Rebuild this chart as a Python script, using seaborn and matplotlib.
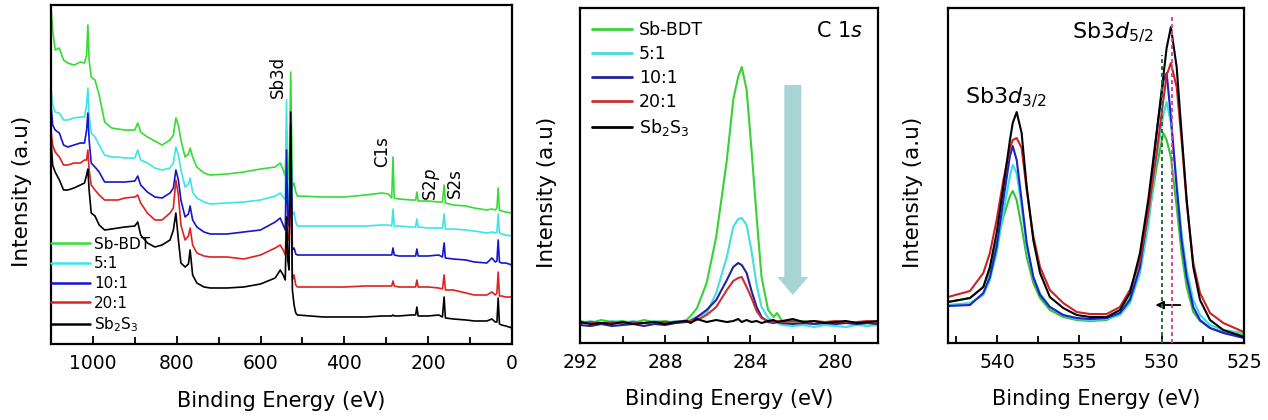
import numpy as np
import pandas as pd
import matplotlib
matplotlib.use("Agg")
import matplotlib.pyplot as plt
import seaborn as sns
from matplotlib.ticker import MultipleLocator
from matplotlib.patches import FancyArrow

sns.set_theme(style="ticks")
plt.rcParams["font.family"] = ["DejaVu Sans"]
plt.rcParams["mathtext.fontset"] = "dejavusans"
plt.rcParams["text.color"] = "black"
plt.rcParams["axes.labelcolor"] = "black"
plt.rcParams["xtick.color"] = "black"
plt.rcParams["ytick.color"] = "black"
plt.rcParams["axes.edgecolor"] = "black"

# ---------------- data ----------------
series_names = ["Sb-BDT", "5:1", "10:1", "20:1", "Sb$_2$S$_3$"]

# Panel 1: survey spectra (binding energy, eV) and intensities (a.u.)
survey_energy = [1100, 1096, 1090, 1080, 1070, 1060, 1045, 1030, 1020, 1015,
                 1012, 1009, 1004, 995, 985, 972, 955, 940, 924, 900,
                 893, 886, 870, 852, 835, 816, 808, 802, 796, 790,
                 780, 772, 768, 762, 752, 735, 720, 680, 640, 600,
                 565, 553, 546, 541, 538, 535, 532, 528, 524, 520,
                 516, 512, 450, 400, 350, 310, 295, 287, 284, 281,
                 270, 240, 230, 227, 224, 200, 175, 166, 162, 159,
                 140, 110, 90, 60, 48, 40, 36, 33, 30, 25,
                 15, 0]
survey_sb_bdt = [337, 314, 294, 296, 284, 281, 279, 282, 281, 289,
                 319, 284, 267, 264, 249, 222, 216, 215, 214, 214,
                 221, 212, 207, 203, 199, 204, 209, 226, 219, 204,
                 187, 190, 196, 187, 177, 171, 169, 170, 172, 175,
                 177, 181, 174, 168, 214, 174, 164, 272, 157, 161,
                 152, 148, 147, 147, 149, 151, 150, 146, 187, 146,
                 145, 144, 144, 152, 143, 143, 142, 142, 159, 141,
                 139, 138, 136, 134, 135, 134, 136, 156, 134, 133,
                 132, 131]
survey_5_1 = [256, 239, 232, 231, 224, 224, 226, 227, 227, 239,
              256, 229, 211, 207, 199, 189, 187, 187, 186, 186,
              194, 184, 181, 176, 174, 176, 181, 197, 189, 174,
              157, 160, 166, 152, 146, 142, 140, 141, 142, 144,
              148, 151, 147, 144, 244, 139, 144, 214, 129, 132,
              122, 118, 118, 118, 118, 119, 119, 118, 135, 118,
              118, 117, 117, 125, 117, 116, 116, 116, 130, 115,
              115, 114, 113, 111, 112, 111, 112, 130, 111, 110,
              109, 108]
survey_10_1 = [240, 219, 214, 211, 199, 197, 199, 201, 201, 214,
               231, 204, 181, 177, 172, 162, 162, 162, 162, 163,
               168, 159, 152, 147, 146, 151, 156, 174, 164, 144,
               127, 130, 138, 124, 117, 112, 110, 110, 112, 114,
               122, 126, 119, 114, 194, 120, 118, 219, 94, 96,
               90, 89, 89, 89, 89, 89, 89, 89, 96, 89,
               88, 88, 88, 95, 88, 88, 89, 87, 101, 86,
               85, 84, 82, 81, 86, 82, 83, 104, 82, 81,
               81, 79]
survey_20_1 = [214, 199, 192, 187, 179, 179, 181, 181, 184, 184,
               194, 174, 159, 154, 149, 144, 144, 144, 146, 147,
               149, 141, 131, 124, 124, 131, 136, 164, 149, 119,
               104, 108, 116, 99, 91, 88, 87, 87, 85, 89,
               96, 99, 94, 89, 124, 104, 104, 169, 64, 69,
               59, 57, 57, 57, 58, 58, 58, 58, 63, 58,
               57, 57, 57, 64, 57, 57, 56, 55, 69, 54,
               54, 51, 49, 49, 52, 49, 51, 72, 48, 48,
               47, 47]
survey_sb2s3 = [204, 179, 172, 164, 154, 154, 156, 159, 161, 169,
                175, 154, 131, 128, 119, 114, 115, 116, 117, 118,
                122, 109, 101, 97, 99, 104, 114, 131, 104, 81,
                77, 80, 94, 69, 61, 57, 56, 56, 57, 60,
                66, 74, 69, 64, 127, 84, 74, 232, 54, 39,
                31, 29, 27, 27, 27, 28, 28, 28, 29, 28,
                28, 29, 29, 37, 28, 28, 29, 27, 47, 26,
                25, 24, 23, 23, 25, 22, 22, 46, 20, 19,
                18, 16]

# Panel 2: C 1s
c1s_energy = [292.0, 291.5, 291.0, 290.5, 290.0, 289.5, 289.0, 288.5, 288.0, 287.5,
              287.0, 286.8, 286.5, 286.05, 285.6, 285.1, 284.8, 284.57, 284.4, 284.17,
              283.94, 283.7, 283.47, 283.16, 282.9, 282.75, 282.5, 282.0, 281.5, 281.0,
              280.5, 280.0, 279.5, 279.0, 278.5, 278.0]
c1s_sb_bdt = [22, 20, 23, 21, 22, 20, 23, 21, 22, 20,
              23, 27, 35, 60, 106, 183, 243, 266, 276, 253,
              193, 126, 66, 33, 26, 30, 22, 21, 22, 19,
              21, 20, 21, 19, 20, 19]
c1s_5_1 = [20, 22, 19, 22, 20, 22, 20, 22, 20, 22,
           21, 23, 26, 30, 50, 86, 116, 124, 125, 118,
           92, 58, 36, 25, 21, 20, 18, 17, 18, 16,
           18, 17, 16, 18, 17, 18]
c1s_10_1 = [18, 17, 19, 17, 18, 19, 17, 19, 18, 20,
            21, 22, 26, 33, 43, 63, 76, 80, 78, 70,
            52, 36, 26, 21, 20, 21, 20, 19, 20, 19,
            20, 19, 20, 19, 20, 19]
c1s_20_1 = [20, 21, 20, 21, 20, 21, 20, 21, 21, 21,
            22, 22, 23, 28, 36, 53, 62, 65, 66, 56,
            45, 32, 25, 22, 21, 22, 21, 22, 21, 22,
            21, 22, 21, 21, 22, 21]
c1s_sb2s3 = [21, 19, 20, 19, 21, 19, 20, 21, 19, 21,
             22, 20, 24, 21, 23, 21, 22, 24, 21, 23,
             21, 22, 20, 22, 23, 21, 22, 24, 21, 22,
             20, 21, 22, 20, 21, 22]

# Panel 3: Sb 3d
sb3d_energy = [543.0, 541.66, 540.85, 540.45, 540.04, 539.63, 539.23, 539.06, 538.82, 538.52,
               538.21, 537.81, 537.4, 536.8, 535.99, 535.17, 534.36, 533.35, 532.54, 531.93,
               531.32, 530.82, 530.31, 529.9, 529.7, 529.44, 529.09, 528.79, 528.48, 528.08,
               527.67, 527.06, 526.25, 525.0]
sb3d_sb_bdt = [41, 45, 56, 73, 100, 126, 147, 152, 143, 116,
               86, 60, 45, 33, 26, 23, 22, 23, 30, 45,
               76, 123, 176, 210, 203, 186, 136, 90, 56, 31,
               22, 15, 11, 8]
sb3d_5_1 = [38, 40, 48, 63, 90, 130, 167, 178, 170, 136,
            96, 66, 50, 36, 28, 24, 23, 24, 28, 40,
            70, 117, 186, 228, 241, 220, 160, 110, 73, 43,
            28, 18, 13, 10]
sb3d_10_1 = [37, 38, 50, 66, 96, 143, 187, 197, 183, 143,
             100, 66, 48, 36, 28, 25, 24, 25, 30, 43,
             76, 133, 210, 262, 270, 226, 156, 103, 66, 36,
             23, 15, 10, 5]
sb3d_20_1 = [46, 52, 70, 90, 123, 163, 195, 203, 205, 195,
             153, 107, 76, 53, 40, 31, 29, 29, 36, 53,
             83, 130, 190, 243, 268, 280, 256, 203, 140, 80,
             50, 30, 20, 11]
sb3d_sb2s3 = [41, 45, 56, 76, 110, 156, 203, 220, 231, 210,
              156, 103, 70, 46, 35, 28, 26, 26, 33, 50,
              90, 143, 210, 267, 295, 316, 276, 210, 143, 76,
              43, 23, 13, 6]

survey_values = [survey_sb_bdt, survey_5_1, survey_10_1, survey_20_1, survey_sb2s3]
c1s_values = [c1s_sb_bdt, c1s_5_1, c1s_10_1, c1s_20_1, c1s_sb2s3]
sb3d_values = [sb3d_sb_bdt, sb3d_5_1, sb3d_10_1, sb3d_20_1, sb3d_sb2s3]

colors1 = ["#36dc36", "#3ce6e6", "#1515cc", "#dd2222", "#000000"]
colors2 = ["#36d236", "#44dede", "#22229a", "#c83036", "#000000"]
colors3 = ["#36c236", "#3cdcdc", "#2020cc", "#cc2222", "#000000"]

# ---------------- figure ----------------
fig = plt.figure(figsize=(12.68, 4.2), dpi=100)
ax1 = fig.add_axes([0.0402, 0.181, 0.3636, 0.807])
ax2 = fig.add_axes([0.4574, 0.1833, 0.2350, 0.7976])
ax3 = fig.add_axes([0.7476, 0.1833, 0.2334, 0.7976])

TICK_FS = 13.5
XLAB_FS = 15
YLAB_FS = 15.5

def style_axis(ax, xlim, ylim, major, minor, xticks):
    ax.set_xlim(*xlim)
    ax.set_ylim(*ylim)
    ax.set_yticks([])
    ax.set_xticks(xticks)
    ax.xaxis.set_minor_locator(MultipleLocator(minor))
    ax.tick_params(axis="x", which="major", direction="in", length=6, width=1.3,
                   labelsize=TICK_FS, pad=7, top=False, bottom=True,
                   colors="black")
    ax.tick_params(axis="x", which="minor", direction="in", length=5, width=1.3,
                   top=False, bottom=True, colors="black")
    for s in ax.spines.values():
        s.set_visible(True)
        s.set_linewidth(1.6)
        s.set_color("black")
    ax.set_xlabel("Binding Energy (eV)", fontsize=XLAB_FS, color="black")
    ax.set_ylabel("Intensity (a.u)", fontsize=YLAB_FS, color="black")

# Panel 1
for name, vals, c in zip(series_names, survey_values, colors1):
    sns.lineplot(x=survey_energy, y=vals, ax=ax1, color=c, lw=1.2, label=name,
                 sort=False, estimator=None)
style_axis(ax1, (1100, 0), (0, 339), 200, 100, [1000, 800, 600, 400, 200, 0])
ax1.xaxis.set_label_coords(0.5, -0.139)
ax1.yaxis.set_label_coords(-0.041, 0.45)
leg1 = ax1.legend(loc="lower left", bbox_to_anchor=(0.0, 0.03), frameon=False, fontsize=11,
                  handlelength=2.55, handletextpad=0.26, labelspacing=0.3, borderpad=0,
                  borderaxespad=0, labelcolor="black")
for lh in leg1.get_lines():
    lh.set_linewidth(1.8)
ax1.text(558, 267, "Sb3d", rotation=90, ha="center", va="center", fontsize=12)
ax1.text(310, 192, "C1s", rotation=90, ha="center", va="center", fontsize=12)
ax1.text(193, 159, "S2$\\it{p}$", rotation=90, ha="center", va="center", fontsize=12)
ax1.text(136, 161, "S2s", rotation=90, ha="center", va="center", fontsize=12)

# Panel 2
for name, vals, c in zip(series_names, c1s_values, colors2):
    sns.lineplot(x=c1s_energy, y=vals, ax=ax2, color=c, lw=1.5, label=name,
                 sort=False, estimator=None)
style_axis(ax2, (292, 278), (0, 335), 4, 2, [292, 288, 284, 280])
ax2.xaxis.set_label_coords(0.5, -0.137)
ax2.yaxis.set_label_coords(-0.077, 0.45)
leg2 = ax2.legend(loc="upper left", bbox_to_anchor=(0.04, 0.961), frameon=False, fontsize=12.5,
                  handlelength=2.3, handletextpad=0.4, labelspacing=0.35, borderpad=0,
                  borderaxespad=0, labelcolor="black")
for lh in leg2.get_lines():
    lh.set_linewidth(2.0)
ax2.text(0.95, 0.93, "C $\\it{1s}$", transform=ax2.transAxes, ha="right", va="center",
         fontsize=15)
ax2.add_patch(FancyArrow(282.0, 258, 0, -210, width=0.8, head_width=1.45,
                         head_length=18, length_includes_head=True,
                         color="#a8d4d6", lw=0, zorder=1))

# Panel 3
for name, vals, c in zip(series_names, sb3d_values, colors3):
    sns.lineplot(x=sb3d_energy, y=vals, ax=ax3, color=c, lw=1.5, label=name,
                 sort=False, estimator=None)
style_axis(ax3, (543, 525), (0, 335), 5, 2.5, [540, 535, 530, 525])
ax3.xaxis.set_label_coords(0.5, -0.137)
ax3.yaxis.set_label_coords(-0.084, 0.45)
ax3.get_legend().remove()
ax3.axvline(530.0, ymin=0, ymax=0.86, color="#1f6f3a", lw=1.4, ls=(0, (2, 1.6)), zorder=5)
ax3.axvline(529.4, ymin=0, ymax=0.975, color="#d4479c", lw=1.4, ls=(0, (2, 1.6)), zorder=5)
ax3.annotate("", xy=(530.55, 38), xytext=(528.7, 38),
             arrowprops=dict(arrowstyle="-|>", color="black", lw=1.3, mutation_scale=12))
ax3.text(541.97, 240, "Sb$\\mathit{3d}_{\\mathit{3/2}}$", ha="left", va="baseline", fontsize=16)
ax3.text(535.48, 305, "Sb$\\mathit{3d}_{\\mathit{5/2}}$", ha="left", va="baseline", fontsize=16)

fig.savefig("out.png", dpi=100)
